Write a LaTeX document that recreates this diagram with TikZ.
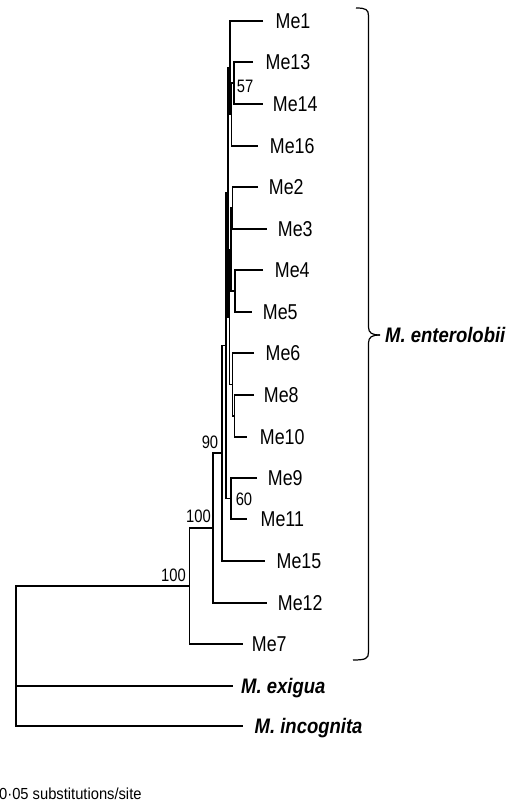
\documentclass[tikz,border=0pt]{standalone}
\usepackage{fontspec}
\newfontfamily\leaffont[FakeStretch=0.83]{Liberation Sans}
\newfontfamily\bsfont[FakeStretch=0.82]{Liberation Sans}
\newfontfamily\spfont[FakeStretch=0.88]{Liberation Sans}
\newfontfamily\scfont[FakeStretch=0.92]{Liberation Sans}
\begin{document}
\begin{tikzpicture}[x=1pt,y=-1pt,
  branch/.style={line width=1.3pt, line join=miter},
  leaf/.style={anchor=base west, inner sep=0pt, font=\leaffont\fontsize{21.5}{21.5}\selectfont},
  boot/.style={anchor=center, inner sep=0pt, font=\bsfont\fontsize{18}{18}\selectfont},
  species/.style={anchor=base west, inner sep=0pt, font=\spfont\fontsize{21}{21}\selectfont\bfseries\itshape},
  scaletext/.style={anchor=base west, inner sep=0pt, font=\scfont\fontsize{16}{16}\selectfont}]
\useasboundingbox (0,0) rectangle (526,804);

% internal node coordinates
\coordinate (n57) at (234,83);
\coordinate (na) at (231.5,114.5);
\coordinate (nb) at (230,68);
\coordinate (n23) at (232.5,208);
\coordinate (n45) at (235,291);
\coordinate (nL) at (231,249.5);
\coordinate (nN) at (234.5,416);
\coordinate (nM) at (232.5,384.5);
\coordinate (nK) at (229.5,317);
\coordinate (nF) at (228,192.5);
\coordinate (n60) at (231,498.5);
\coordinate (nE) at (226,345.5);
\coordinate (nD) at (222,453);
\coordinate (nC) at (213,528);
\coordinate (nB) at (189.3,586);
\coordinate (root) at (16,586);

% leaf tips
\coordinate (t1) at (263,21);
\coordinate (t13) at (253,62);
\coordinate (t14) at (263,104);
\coordinate (t16) at (258,146);
\coordinate (t2) at (258,187);
\coordinate (t3) at (267,229);
\coordinate (t4) at (263,270);
\coordinate (t5) at (252,312);
\coordinate (t6) at (254,353);
\coordinate (t8) at (254,395);
\coordinate (t10) at (247,437);
\coordinate (t9) at (257,478);
\coordinate (t11) at (247,519);
\coordinate (t15) at (265,561);
\coordinate (t12) at (267,603);
\coordinate (t7) at (243,644);
\coordinate (tex) at (232.5,686);
\coordinate (tin) at (243.3,726);

% branches
\draw[branch] (t13) -- (t13 -| n57) -- (t14 -| n57) -- (t14);
\draw[branch] (n57) -- (n57 -| na) -- (t16 -| na) -- (t16);
\draw[branch] (t1) -- (t1 -| nb) -- (na -| nb) -- (na);
\draw[branch] (t2) -- (t2 -| n23) -- (t3 -| n23) -- (t3);
\draw[branch] (t4) -- (t4 -| n45) -- (t5 -| n45) -- (t5);
\draw[branch] (n23) -- (n23 -| nL) -- (n45 -| nL) -- (n45);
\draw[branch] (t8) -- (t8 -| nN) -- (t10 -| nN) -- (t10);
\draw[branch] (t6) -- (t6 -| nM) -- (nN -| nM) -- (nN);
\draw[branch] (nL) -- (nL -| nK) -- (nM -| nK) -- (nM);
\draw[branch] (nb) -- (nb -| nF) -- (nK -| nF) -- (nK);
\draw[branch] (t9) -- (t9 -| n60) -- (t11 -| n60) -- (t11);
\draw[branch] (nF) -- (nF -| nE) -- (n60 -| nE) -- (n60);
\draw[branch] (nE) -- (nE -| nD) -- (t15 -| nD) -- (t15);
\draw[branch] (nD) -- (nD -| nC) -- (t12 -| nC) -- (t12);
\draw[branch] (nC) -- (nC -| nB) -- (t7 -| nB) -- (t7);
\draw[branch] (nB) -- (root) -- (tin -| root) -- (tin);
\draw[branch] (tex -| root) -- (tex);

% leaf labels
\node[leaf] (l1) at (275.5,28.7) {Me1};
\node[leaf] (l13) at (265.5,69.7) {Me13};
\node[leaf] (l14) at (272.7,111.7) {Me14};
\node[leaf] (l16) at (269.7,153.7) {Me16};
\node[leaf] (l2) at (268.7,194.7) {Me2};
\node[leaf] (l3) at (277.7,236.7) {Me3};
\node[leaf] (l4) at (274.7,277.7) {Me4};
\node[leaf] (l5) at (262.7,319.7) {Me5};
\node[leaf] (l6) at (265.5,360.7) {Me6};
\node[leaf] (l8) at (263.7,402.7) {Me8};
\node[leaf] (l10) at (259.7,444.7) {Me10};
\node[leaf] (l9) at (267.7,485.7) {Me9};
\node[leaf] (l11) at (260.5,526.7) {Me11};
\node[leaf] (l15) at (276.5,568.7) {Me15};
\node[leaf] (l12) at (277.7,610.7) {Me12};
\node[leaf] (l7) at (251.7,651.7) {Me7};

% bootstrap values
\node[boot] (b57) at (245,86) {57};
\node[boot] (b60) at (244,499) {60};
\node[boot] (b90) at (210,442) {90};
\node[boot] (b100a) at (198.5,516) {100};
\node[boot] (b100b) at (173.5,575) {100};

% species
\node[species] (sex) at (241,693.5) {M. exigua};
\node[species] (sin) at (254.5,733.5) {M. incognita};
\node[species] (sen) at (385,342.5) {M. enterolobii};

% brace
\coordinate (btop) at (356,8);
\coordinate (bbot) at (353,660);
\coordinate (btip) at (380,335);
\draw[line width=1.2pt] (btop) .. controls (366,8) and (368.5,9.5) .. (368.5,16) -- (368.5,327)
   .. controls (368.5,333) and (372,335) .. (btip);
\draw[line width=1.2pt] (btip) .. controls (372,335) and (368.5,337) .. (368.5,343) -- (368.5,652)
   .. controls (368.5,658.5) and (366,660) .. (bbot);

% scale caption
\node[scaletext] (scale) at (-1,799.5) {0·05 substitutions/site};
\end{tikzpicture}
\end{document}
